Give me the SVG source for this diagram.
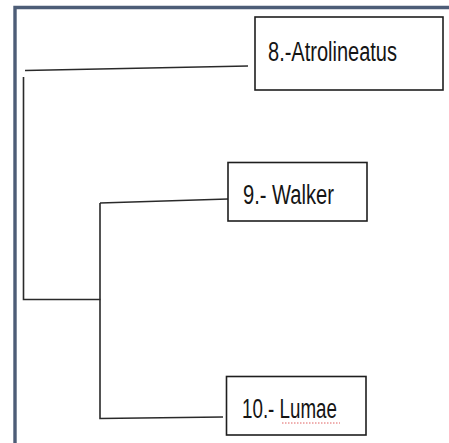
<svg xmlns="http://www.w3.org/2000/svg" width="449" height="443" viewBox="0 0 449 443">
<style>
.frame{fill:none;stroke:#4d5d77;stroke-width:3.4}
.box{fill:#fff;stroke:#1e1e1e;stroke-width:1.6}
.lbl{font-family:"Liberation Sans",Arial,sans-serif;font-size:27px;fill:#151515}
.edge{fill:none;stroke:#2a2a2a;stroke-width:1.6}
</style>
<rect width="449" height="443" fill="#fff"/>
<path class="frame" d="M15,443 V7.5 H449"/>
<g id="connectors">
<path class="edge" d="M25,70.5 L248,66"/>
<path class="edge" d="M23.5,77 V299.5 H100.5"/>
<path class="edge" d="M100,203 L228,199"/>
<path class="edge" d="M100,203 V418.5 L223,417"/>
</g>
<g id="node-8">
<rect class="box" x="255" y="17" width="188" height="73"/>
<text class="lbl" x="268" y="61" textLength="129" lengthAdjust="spacingAndGlyphs">8.-Atrolineatus</text>
</g>
<g id="node-9">
<rect class="box" x="228" y="162.5" width="139" height="58.5"/>
<text class="lbl" x="243" y="203.5" textLength="91" lengthAdjust="spacingAndGlyphs">9.- Walker</text>
</g>
<g id="node-10">
<rect class="box" x="226.5" y="376.5" width="139.5" height="58.5"/>
<text class="lbl" x="242" y="418" textLength="95" lengthAdjust="spacingAndGlyphs">10.- Lumae</text>
<path d="M282,423 H340" stroke="#e06060" stroke-width="1" stroke-dasharray="1.5,1.5" fill="none"/>
</g>
</svg>
